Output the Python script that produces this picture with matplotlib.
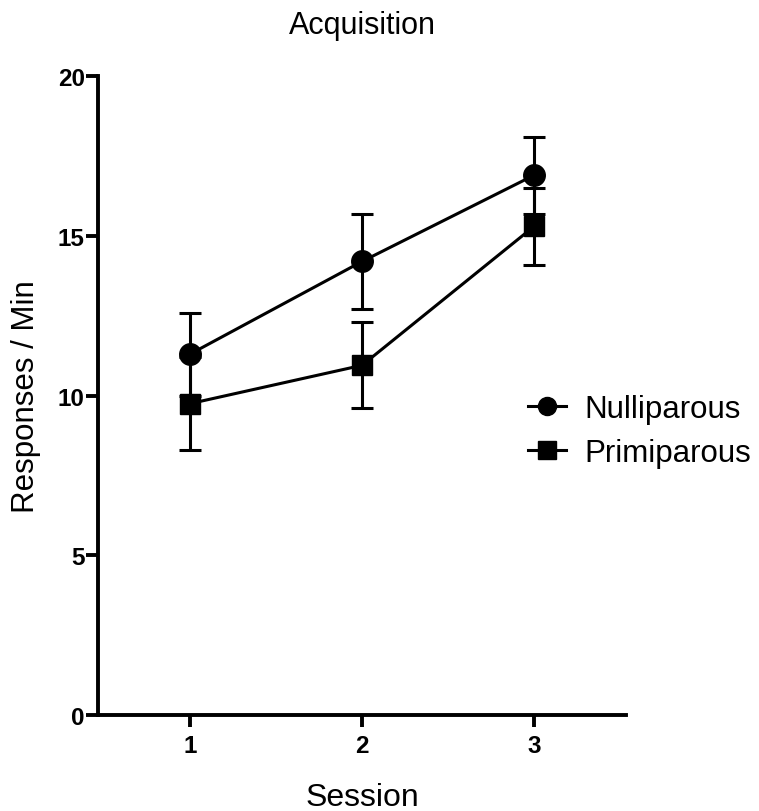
import matplotlib
matplotlib.use("Agg")
import matplotlib.pyplot as plt
from matplotlib.lines import Line2D

plt.rcParams['font.family'] = ['Liberation Sans', 'DejaVu Sans']

sessions = [1, 2, 3]
nulli_mean = [11.3, 14.2, 16.9]
nulli_err = [1.3, 1.5, 1.2]
primi_mean = [9.75, 10.95, 15.3]
primi_err = [1.45, 1.35, 1.2]
series_labels = ["Nulliparous", "Primiparous"]

fig = plt.figure(figsize=(7.59, 8.12), dpi=100)
ax = fig.add_axes([0.129, 0.118, 0.696, 0.787])

lw = 2.2
ax.errorbar(sessions, nulli_mean, yerr=nulli_err, color='black', marker='o',
            markersize=15.5, linewidth=lw, elinewidth=lw, capsize=8, capthick=lw,
            zorder=3)
ax.errorbar(sessions, primi_mean, yerr=primi_err, color='black', marker='s',
            markersize=14.5, linewidth=lw, elinewidth=lw, capsize=8, capthick=lw,
            zorder=3)

ax.set_xlim(0.465, 3.535)
ax.set_ylim(0, 20)
ax.set_xticks(sessions)
ax.set_yticks([0, 5, 10, 15, 20])
for s in ['top', 'right']:
    ax.spines[s].set_visible(False)
for s in ['left', 'bottom']:
    ax.spines[s].set_linewidth(2.8)
ax.tick_params(width=2.8, length=8.5, labelsize=17.5)
for lab in ax.get_xticklabels() + ax.get_yticklabels():
    lab.set_fontweight('bold')
ax.tick_params(axis='x', pad=5)
ax.tick_params(axis='y', pad=1)

ax.set_xlabel("Session", fontsize=23, labelpad=18)
ax.set_ylabel("Responses / Min", fontsize=22.5, labelpad=12)
ax.set_title("Acquisition", fontsize=22, pad=31)

handles = [
    Line2D([], [], color='black', marker='o', markersize=13, linewidth=lw),
    Line2D([], [], color='black', marker='s', markersize=12.5, linewidth=lw),
]
ax.legend(handles, series_labels, loc='center left', bbox_to_anchor=(0.815, 0.445),
          frameon=False, fontsize=22.5, handlelength=1.2, handletextpad=0.6,
          labelspacing=0.45, borderpad=0, borderaxespad=0)

fig.savefig("out.png", dpi=100)
